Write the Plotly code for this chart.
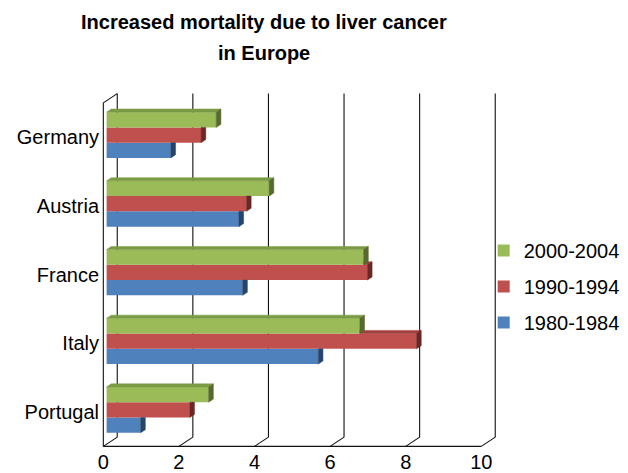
import plotly.graph_objects as go

# ---- data -------------------------------------------------------------
countries = ["Portugal", "Italy", "France", "Austria", "Germany"]
periods = ["1980-1984", "1990-1994", "2000-2004"]
rate_1980_1984 = [0.9, 5.6, 3.6, 3.5, 1.7]
rate_1990_1994 = [2.2, 8.2, 6.9, 3.7, 2.5]
rate_2000_2004 = [2.7, 6.7, 6.8, 4.3, 2.9]
x_ticks = [0, 2, 4, 6, 8, 10]
title_lines = ["Increased mortality due to liver cancer", "in Europe"]

series = [rate_1980_1984, rate_1990_1994, rate_2000_2004]
front_colors = ["#4F81BD", "#C0504D", "#9BBB59"]
top_colors = ["#3D6699", "#A33F3C", "#7A9A44"]
end_colors = ["#27446A", "#6A2725", "#56692E"]

FONT = "Liberation Sans, Arial, sans-serif"
W, H = 628, 473

# ---- 3-D frame geometry (pixels) --------------------------------------
X0, X1 = 100.8, 480.6          # front plane: value 0 and value 10
Y_BOT, Y_TOP = 448.3, 103.3    # front plane: bottom and top of category band
DEPTH_DX, DEPTH_DY = 14.0, 9.3 # offset from front plane to back wall
BAR_Z0, BAR_Z1 = 0.236, 0.572  # bar front / back as fraction of depth

n_cat = len(countries)
x_min, x_max = x_ticks[0], x_ticks[-1]
px_x = (X1 - X0) / (x_max - x_min)
px_y = (Y_BOT - Y_TOP) / n_cat
y_lo, y_hi = -0.5, n_cat - 0.5

wall_dx = DEPTH_DX / px_x
wall_dy = DEPTH_DY / px_y
shift_x = BAR_Z0 * DEPTH_DX / px_x
shift_y = BAR_Z0 * DEPTH_DY / px_y
face_dx = (BAR_Z1 - BAR_Z0) * DEPTH_DX / px_x
face_dy = (BAR_Z1 - BAR_Z0) * DEPTH_DY / px_y

# main (front plane) axis ranges, padded so the back wall fits inside
pad_x, pad_y = 0.06, 0.03
xr = [x_min - pad_x, x_max + wall_dx + pad_x]
yr = [y_lo - pad_y, y_hi + wall_dy + pad_y]
dom_x = [(X0 + xr[0] * px_x) / W, (X0 + xr[1] * px_x) / W]
px_bot = Y_BOT + (y_lo - yr[0]) * px_y
px_top = Y_BOT - (yr[1] - y_lo) * px_y
dom_y = [(H - px_bot) / H, (H - px_top) / H]

fig = go.Figure()

# ---- frame: walls and floor -------------------------------------------
fx, fy = [], []
def seg(xa, ya, xb, yb):
    fx.extend([xa, xb, None])
    fy.extend([ya, yb, None])

seg(x_min, y_lo, x_min, y_hi)                               # left wall, front edge
seg(x_min, y_hi, x_min + wall_dx, y_hi + wall_dy)           # left wall, top edge
seg(x_min, y_lo, x_max, y_lo)                               # floor, front edge
for t in x_ticks:
    seg(t, y_lo, t + wall_dx, y_lo + wall_dy)               # floor gridline
    seg(t + wall_dx, y_lo + wall_dy, t + wall_dx, y_hi + wall_dy)  # back wall gridline

fig.add_trace(go.Scatter(x=fx, y=fy, mode="lines", line=dict(color="#111111", width=1.1),
                         hoverinfo="skip", showlegend=False, xaxis="x", yaxis="y"))

# ---- bars (front faces) -----------------------------------------------
n_ser = len(series)
for k, (name, vals, col) in enumerate(zip(periods, series, front_colors)):
    fig.add_trace(go.Bar(
        y=list(range(n_cat)), x=vals, orientation="h", name=name,
        marker=dict(color=col, line=dict(width=0)),
        xaxis="x2", yaxis="y2", legendgroup=name, legendrank=n_ser - k,
    ))

# ---- bars (top and end faces) -----------------------------------------
bw = (1 - 1 / 3) / n_ser

def clip_x_ge(poly, u):
    out = []
    for i in range(len(poly)):
        a, b = poly[i], poly[(i + 1) % len(poly)]
        ina, inb = a[0] >= u, b[0] >= u
        if ina:
            out.append(a)
        if ina != inb:
            t = (u - a[0]) / (b[0] - a[0])
            out.append((u, a[1] + t * (b[1] - a[1])))
    return out

def add_poly(xs, ys, poly):
    if len(poly) < 3:
        return
    for p in poly + [poly[0]]:
        xs.append(p[0]); ys.append(p[1])
    xs.append(None); ys.append(None)

for s, vals in enumerate(series):
    above = series[s + 1] if s + 1 < n_ser else None
    tx, ty, ex, ey = [], [], [], []
    for c, v in enumerate(vals):
        top = c + (s - (n_ser - 1) / 2) * bw + bw / 2
        bot = top - bw
        u = above[c] if above is not None else None
        top_face = [(0, top), (v, top), (v + face_dx, top + face_dy), (face_dx, top + face_dy)]
        if u is not None:
            top_face = clip_x_ge(top_face, u)
        add_poly(tx, ty, top_face)
        if u is not None and u > v + face_dx / 2:
            end_face = [(v, bot), (v, top), (v + face_dx, top), (v + face_dx, bot + face_dy)]
        else:
            end_face = [(v, bot), (v, top), (v + face_dx, top + face_dy), (v + face_dx, bot + face_dy)]
        add_poly(ex, ey, end_face)
    for xs, ys, col in ((tx, ty, top_colors[s]), (ex, ey, end_colors[s])):
        fig.add_trace(go.Scatter(x=xs, y=ys, mode="lines", fill="toself",
                                 fillcolor=col, line=dict(color=col, width=0.5),
                                 hoverinfo="skip", showlegend=False,
                                 xaxis="x2", yaxis="y2"))

# ---- title (two lines, wider line spacing) ----------------------------
title_centers = [22.5, 53.0]
for text, yc in zip(title_lines, title_centers):
    fig.add_annotation(text=f"<b>{text}</b>", xref="paper", yref="paper",
                       x=262 / W, y=1 - yc / H, xanchor="center", yanchor="middle",
                       showarrow=False, font=dict(family=FONT, size=20, color="#000000"))

# ---- layout -----------------------------------------------------------
tick_font = dict(family=FONT, size=20, color="#000000")
fig.update_layout(
    width=W, height=H,
    margin=dict(l=0, r=0, t=0, b=0),
    paper_bgcolor="#FFFFFF", plot_bgcolor="rgba(0,0,0,0)",
    barmode="group", bargap=1 / 3, bargroupgap=0,
    font=dict(family=FONT, size=20, color="#000000"),
    xaxis=dict(domain=dom_x, range=xr, tickvals=x_ticks, ticktext=[str(t) for t in x_ticks],
               showgrid=False, zeroline=False, showline=False, ticks="",
               tickfont=tick_font, fixedrange=True),
    yaxis=dict(domain=dom_y, range=yr, tickvals=list(range(n_cat)), ticktext=countries,
               showgrid=False, zeroline=False, showline=False, ticks="",
               tickfont=tick_font, ticklabelstandoff=1, fixedrange=True),
    xaxis2=dict(domain=dom_x, range=[xr[0] - shift_x, xr[1] - shift_x], overlaying="x",
                visible=False, fixedrange=True),
    yaxis2=dict(domain=dom_y, range=[yr[0] - shift_y, yr[1] - shift_y], overlaying="y",
                visible=False, fixedrange=True),
    legend=dict(x=483 / W, xanchor="left", y=1 - 232 / H, yanchor="top",
                traceorder="grouped", tracegroupgap=7,
                font=dict(family=FONT, size=20, color="#000000"),
                bgcolor="rgba(0,0,0,0)"),
    showlegend=True,
)

fig.write_html("out.html")
